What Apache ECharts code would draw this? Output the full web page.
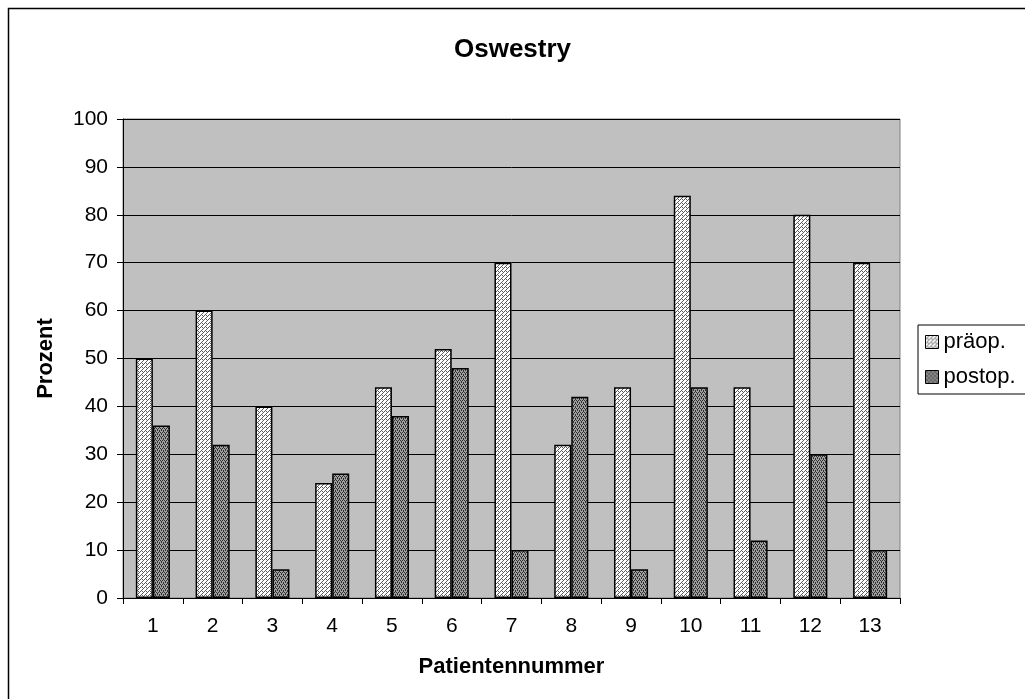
<!DOCTYPE html>
<html>
<head>
<meta charset="utf-8">
<script src="https://cdn.jsdelivr.net/npm/echarts@6/dist/echarts.min.js"></script>
<style>
  html, body { margin: 0; padding: 0; background: #ffffff; }
  #chart { width: 1025px; height: 699px; }
</style>
</head>
<body>
<div id="chart"></div>
<script>
// Oswestry disability index per patient, before and after surgery
const categories = ['1', '2', '3', '4', '5', '6', '7', '8', '9', '10', '11', '12', '13'];
const praeop = [50, 60, 40, 24, 44, 52, 70, 32, 44, 84, 44, 80, 70];
const postop = [36, 32, 6, 26, 38, 48, 10, 42, 6, 44, 12, 30, 10];
const seriesNames = ['präop.', 'postop.'];

// Small repeating tiles for the hatched bar fills
function makeTile(size, base, ink, cells) {
  const c = document.createElement('canvas');
  c.width = size; c.height = size;
  const g = c.getContext('2d');
  g.fillStyle = base;
  g.fillRect(0, 0, size, size);
  g.fillStyle = ink;
  cells.forEach(([x, y]) => g.fillRect(x, y, 1, 1));
  return c;
}
const hatchLight = makeTile(4, '#ffffff', '#5a5a5a', [[0, 3], [1, 2], [2, 1], [3, 0], [2, 3]]);
const hatchDark = makeTile(4, '#a0a0a0', '#303030', [[0, 0], [2, 0], [1, 2], [3, 2], [1, 1], [3, 3]]);

const font = 'Liberation Sans, Arial, sans-serif';
const chart = echarts.init(document.getElementById('chart'), null, { renderer: 'canvas' });

chart.setOption({
  backgroundColor: '#ffffff',
  animation: false,
  title: {
    text: 'Oswestry',
    left: 'center',
    top: 32,
    textStyle: { fontFamily: font, fontSize: 26, fontWeight: 'bold', color: '#000' }
  },
  graphic: [{
    type: 'rect',
    shape: { x: 8.5, y: 8.5, width: 1040, height: 720 },
    style: { fill: 'none', stroke: '#000', lineWidth: 1.5 },
    silent: true
  }],
  legend: {
    orient: 'vertical',
    left: 918,
    top: 325,
    padding: [6, 40, 6, 7],
    itemGap: 13,
    itemWidth: 13,
    itemHeight: 13,
    icon: 'rect',
    borderColor: '#000',
    borderWidth: 1,
    backgroundColor: '#ffffff',
    textStyle: { fontFamily: font, fontSize: 22, color: '#000', padding: [0, 0, 0, 0] },
    itemStyle: { borderColor: '#000', borderWidth: 1 },
    data: seriesNames
  },
  grid: {
    left: 123,
    right: 125,
    top: 119,
    bottom: 101,
    show: true,
    backgroundColor: '#c0c0c0',
    borderColor: '#808080',
    borderWidth: 1
  },
  xAxis: {
    type: 'category',
    data: categories,
    name: 'Patientennummer',
    nameLocation: 'middle',
    nameGap: 58,
    nameTextStyle: { fontFamily: font, fontSize: 22, fontWeight: 'bold', color: '#000' },
    axisLine: { lineStyle: { color: '#000', width: 1 } },
    axisTick: { show: true, alignWithLabel: false, length: 6, lineStyle: { color: '#000' } },
    axisLabel: { fontFamily: font, fontSize: 21, color: '#000', margin: 18 },
    splitLine: { show: false }
  },
  yAxis: {
    type: 'value',
    min: 0,
    max: 100,
    interval: 10,
    name: 'Prozent',
    nameLocation: 'middle',
    nameGap: 66,
    nameTextStyle: { fontFamily: font, fontSize: 22, fontWeight: 'bold', color: '#000' },
    axisLine: { show: true, lineStyle: { color: '#000', width: 1 } },
    axisTick: { show: true, length: 6, lineStyle: { color: '#000' } },
    axisLabel: { fontFamily: font, fontSize: 21, color: '#000', margin: 15 },
    splitLine: { show: true, lineStyle: { color: '#000', width: 1 } }
  },
  series: [
    {
      name: seriesNames[0],
      type: 'bar',
      data: praeop,
      barGap: '0%',
      barCategoryGap: '43%',
      itemStyle: { color: { image: hatchLight, repeat: 'repeat' }, borderColor: '#000', borderWidth: 1.5 }
    },
    {
      name: seriesNames[1],
      type: 'bar',
      data: postop,
      barGap: '0%',
      barCategoryGap: '43%',
      itemStyle: { color: { image: hatchDark, repeat: 'repeat' }, borderColor: '#000', borderWidth: 1.5 }
    }
  ]
});
</script>
</body>
</html>
